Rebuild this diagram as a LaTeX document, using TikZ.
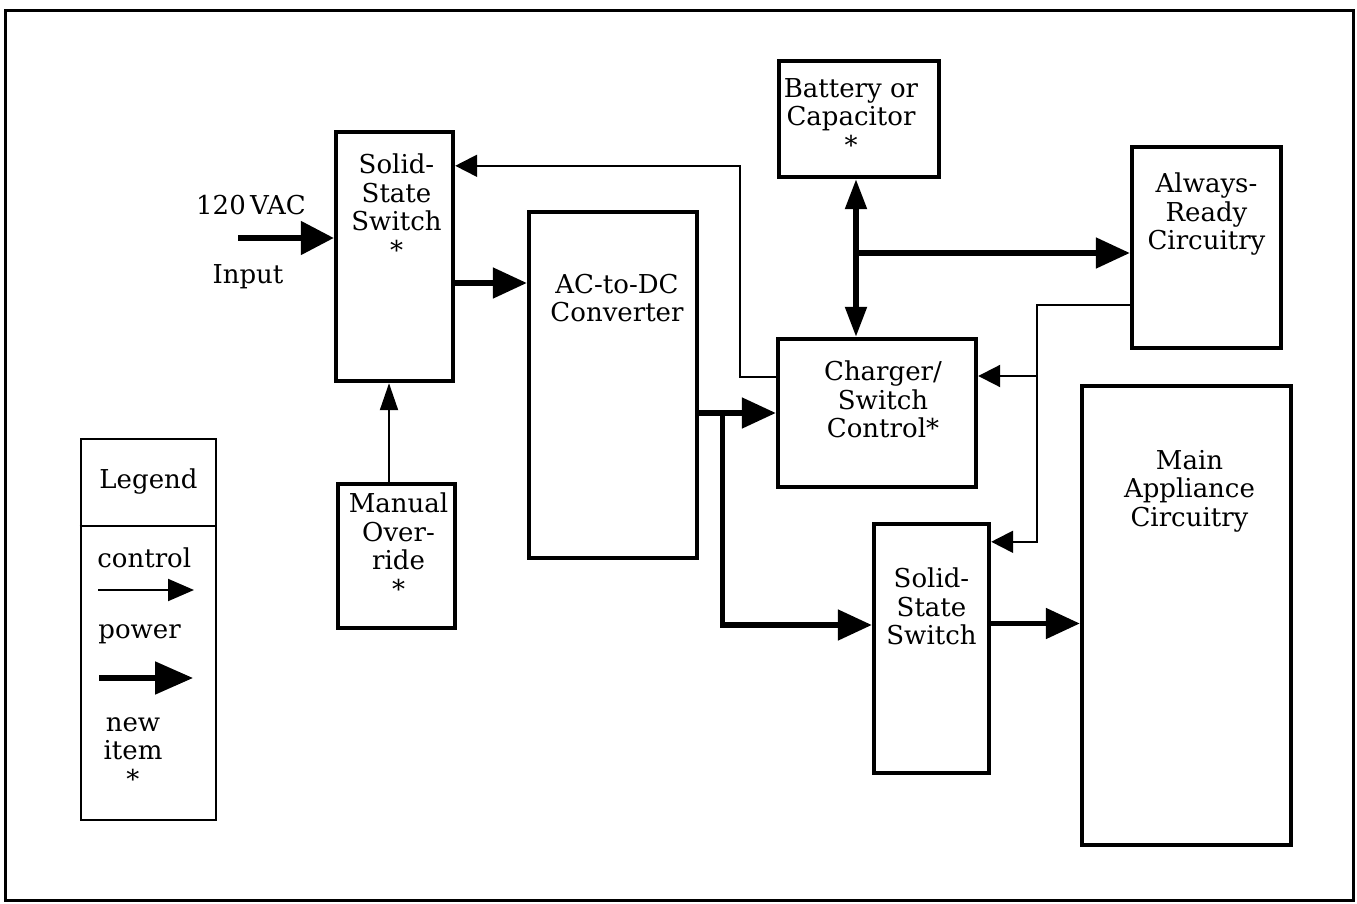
\documentclass[tikz,border=0pt]{standalone}
\usepackage{fontspec}
\setmainfont{DejaVu Serif}
\usetikzlibrary{positioning,arrows.meta,calc}

\tikzset{
  blk/.style={draw, line width=2.2pt, inner sep=0pt},
  lbl/.style={align=center, inner sep=0pt},
  power/.style={line width=2.6pt, -{Triangle[length=17pt,width=15pt]}},
  ctrl/.style={line width=1pt, -{Triangle[length=11pt,width=11pt]}},
  dpower/.style={line width=2.6pt,
    {Triangle[length=15pt,width=10.5pt]}-{Triangle[length=15pt,width=10.5pt]}},
}

\begin{document}
\begin{tikzpicture}[x=0.5pt, y=-0.5pt, font=\fontsize{13pt}{14.25pt}\selectfont]
\useasboundingbox (0,0) rectangle (1357,904);
\draw[line width=1.5pt] (5,11) rectangle (1353,900);

% blocks
\node[blk, minimum width=58.5pt, minimum height=124.5pt] (ss1) at (394.5,256.5) {};
\node[blk, minimum width=58.5pt, minimum height=72pt] (mo) at (396.5,556) {};
\node[blk, minimum width=84pt, minimum height=173pt] (acdc) at (613,385) {};
\node[blk, minimum width=80pt, minimum height=58pt] (bat) at (859,119) {};
\node[blk, minimum width=99pt, minimum height=74pt] (chg) at (877,413) {};
\node[blk, minimum width=74.5pt, minimum height=100.5pt] (ar) at (1206.5,247.5) {};
\node[blk, minimum width=104.5pt, minimum height=229.5pt] (main) at (1186.5,615.5) {};
\node[blk, minimum width=57.5pt, minimum height=124.5pt] (ss2) at (931.5,648.5) {};
\node[draw, line width=1.4pt, minimum width=67.5pt, minimum height=190.5pt] (leg) at (148.5,629.5) {};

% block texts
\node[lbl, below=12pt of ss1.north, xshift=1pt] (ss1t) {Solid-\\State\\Switch\\*};
\node[lbl, below=5.5pt of mo.north, xshift=1pt] (mot) {Manual\\Over-\\ride\\*};
\node[lbl, below=32pt of acdc.north, xshift=2pt] (acdct) {AC-to-DC\\Converter};
\node[lbl, below=9.5pt of bat.north, xshift=-4pt] (batt) {Battery or\\Capacitor\\*};
\node[lbl, below=12pt of chg.north, xshift=3pt] (chgt) {Charger/\\Switch\\Control*};
\node[lbl, below=14pt of ar.north] (art) {Always-\\Ready\\Circuitry};
\node[lbl, below=33pt of main.north, xshift=1.5pt] (maint) {Main\\Appliance\\Circuitry};
\node[lbl, below=23pt of ss2.north] (ss2t) {Solid-\\State\\Switch};

\node[lbl] (vac) at (251,205) {120\,VAC};
\node[lbl] (inp) at (248,277) {Input};

% legend
\node[lbl, below=15.5pt of leg.north] (legt) {Legend};
\draw[line width=1.4pt] (leg.west |- 0,526) -- (leg.east |- 0,526);
\node[lbl, anchor=west] (lgctl) at (97,558) {control};
\node[lbl, anchor=west] (lgpow) at (98,634) {power};
\node[lbl] (lgnew) at (133,753) {new\\item\\*};
\coordinate (lc1) at (98,590);
\coordinate (lc2) at (194,590);
\coordinate (lp1) at (99,678);
\coordinate (lp2) at (193,678);
\draw[ctrl, -{Triangle[length=13pt,width=11pt]}] (lc1) -- (lc2);
\draw[power, -{Triangle[length=19pt,width=16pt]}] (lp1) -- (lp2);

% power paths
\coordinate (inS) at (238,238);
\draw[power, -{Triangle[length=16.5pt,width=16.5pt]}] (inS) -- (inS -| ss1.west);
\coordinate (p1) at ($(ss1.east)+(0,26.5)$);
\draw[power] (p1) -- (p1 -| acdc.west);
\coordinate (q1) at (chg.west -| acdc.east);
\draw[power] (q1) -- (chg.west);
\coordinate (jA) at ($(q1)+(23,0)$);
\coordinate (q2) at ($(ss2.west)+(0,-23.5)$);
\draw[power] (jA) |- (q2);
\coordinate (bx) at (856,0);
\draw[dpower] (bat.south -| bx) -- (chg.north -| bx);
\coordinate (jB) at (856,253);
\draw[power] (jB) -- (jB -| ar.west);
\coordinate (p2) at ($(ss2.east)+(0,-25)$);
\draw[power] (p2) -- (p2 -| main.west);

% control paths
\draw[ctrl, -{Triangle[length=13.5pt,width=9pt]}] ([xshift=-3.75pt]mo.north) -- ([xshift=-3.75pt]mo.north |- ss1.south);
\coordinate (c1) at ($(chg.west)+(0,-36)$);
\coordinate (k1) at (740,0);
\coordinate (s1c) at ($(ss1.north east)+(0,36)$);
\draw[ctrl] (c1) -| (k1 |- s1c) -- (s1c);
\coordinate (a1) at ($(ar.west)+(0,58)$);
\coordinate (k2) at (1037,0);
\coordinate (c2) at ($(chg.east)+(0,-37)$);
\coordinate (s2c) at ($(ss2.north east)+(0,20)$);
\draw[ctrl] (a1) -| (k2 |- s2c) -- (s2c);
\draw[ctrl] (k2 |- c2) -- (c2);
\end{tikzpicture}
\end{document}
